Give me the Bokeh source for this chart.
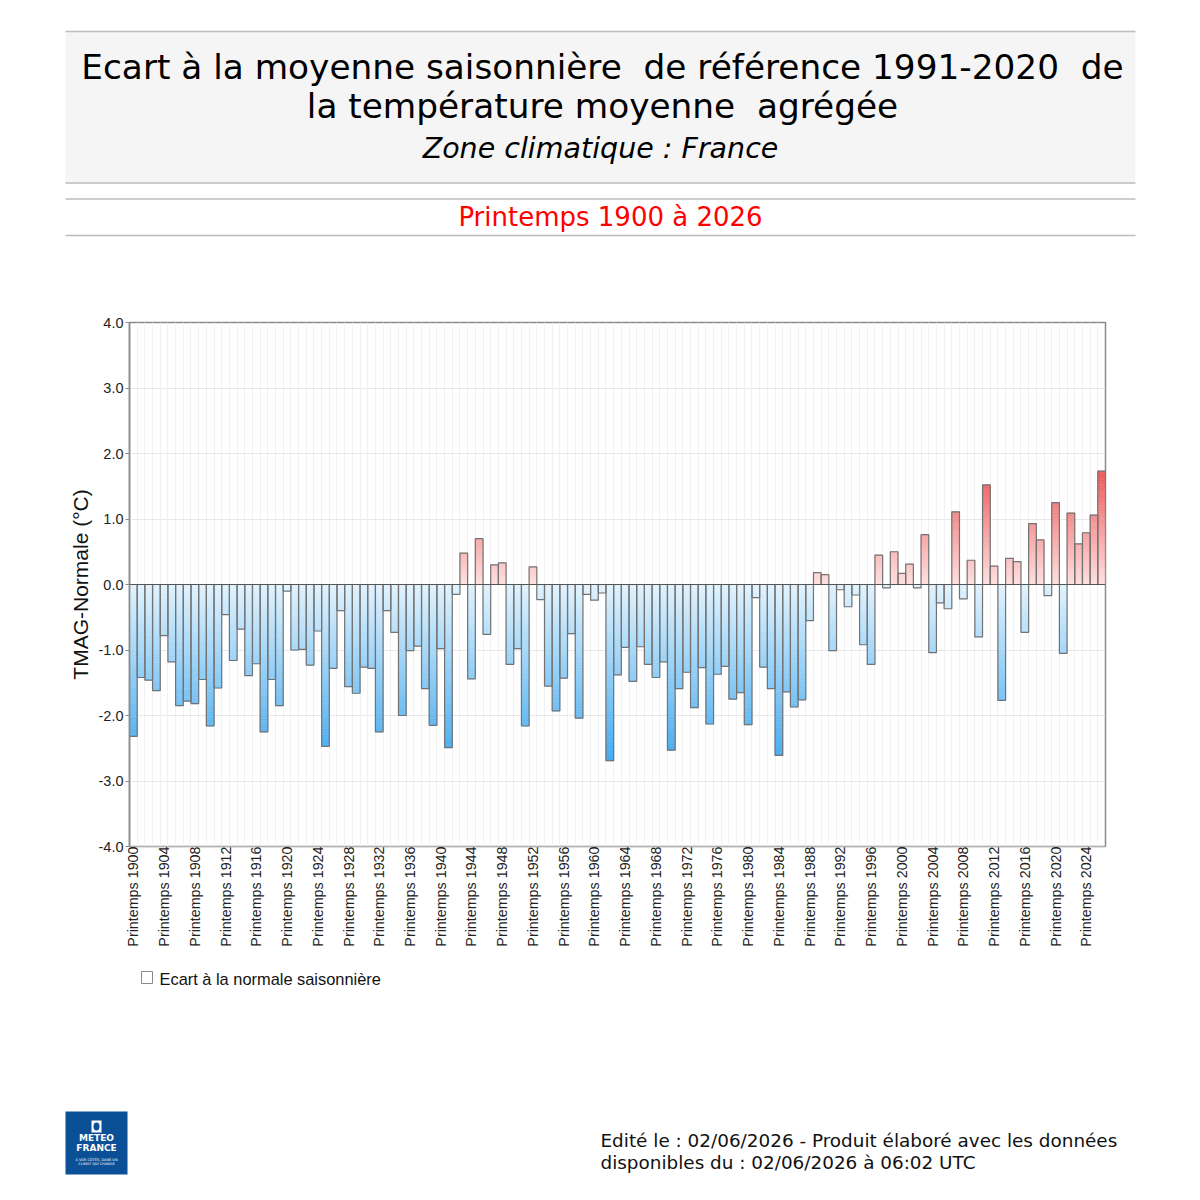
import math
from bokeh.plotting import figure
from bokeh.models import Range1d, FixedTicker, NumeralTickFormatter, Span
from bokeh.layouts import column
from bokeh.embed import file_html
from bokeh.resources import INLINE
from bokeh.core.properties import value

# ---------------- data ----------------
years = list(range(1900, 2027))
anomalies = [
    -2.32, -1.42, -1.46, -1.62, -0.78, -1.18, -1.85, -1.78, -1.82, -1.45,  # 1900-1909
    -2.16, -1.58, -0.46, -1.16, -0.68, -1.39, -1.21, -2.25, -1.45, -1.85,  # 1910-1919
    -0.10, -1.00, -0.99, -1.23, -0.71, -2.47, -1.28, -0.40, -1.56, -1.66,  # 1920-1929
    -1.26, -1.28, -2.25, -0.40, -0.73, -2.00, -1.01, -0.94, -1.59, -2.15,  # 1930-1939
    -0.98, -2.49, -0.15, 0.48, -1.44, 0.70, -0.76, 0.30, 0.33, -1.22,      # 1940-1949
    -0.98, -2.16, 0.27, -0.23, -1.55, -1.93, -1.43, -0.75, -2.04, -0.15,   # 1950-1959
    -0.24, -0.13, -2.69, -1.38, -0.96, -1.48, -0.95, -1.22, -1.42, -1.18,  # 1960-1969
    -2.53, -1.59, -1.34, -1.88, -1.27, -2.13, -1.37, -1.25, -1.75, -1.65,  # 1970-1979
    -2.14, -0.20, -1.26, -1.59, -2.61, -1.64, -1.87, -1.76, -0.55, 0.18,   # 1980-1989
    0.15, -1.01, -0.08, -0.34, -0.16, -0.92, -1.22, 0.45, -0.05, 0.50,     # 1990-1999
    0.17, 0.31, -0.05, 0.76, -1.04, -0.28, -0.37, 1.11, -0.22, 0.37,       # 2000-2009
    -0.80, 1.52, 0.28, -1.77, 0.40, 0.35, -0.73, 0.93, 0.68, -0.17,        # 2010-2019
    1.25, -1.05, 1.09, 0.62, 0.79, 1.06, 1.73,                             # 2020-2026
]
assert len(years) == len(anomalies)

tick_years = list(range(1900, 2025, 4))
tick_labels = ["Printemps %d" % y for y in tick_years]
y_ticks = [-4, -3, -2, -1, 0, 1, 2, 3, 4]

title_lines = ["Ecart à la moyenne saisonnière \u00a0de référence 1991-2020 \u00a0de",
               "la température moyenne \u00a0agrégée"]
subtitle = "Zone climatique : France"
period_title = "Printemps 1900 à 2026"
y_label = "TMAG-Normale (°C)"
legend_label = "Ecart à la normale saisonnière"
footer_lines = ["Edité le : 02/06/2026 - Produit élaboré avec les données",
                "disponibles du : 02/06/2026 à 06:02 UTC"]

W = 1192
DV = value("DejaVu Sans")
LS = value("Liberation Sans")


def no_align(f):
    try:
        f.frame_align = False
    except Exception:
        pass


def blank_fig(h, top_page):
    f = figure(width=W, height=h, x_range=Range1d(0, W),
               y_range=Range1d(top_page + h, top_page),
               x_axis_type=None, y_axis_type=None, min_border=0,
               toolbar_location=None, output_backend="svg")
    f.grid.visible = False
    f.outline_line_color = None
    f.background_fill_color = "white"
    f.border_fill_color = "white"
    no_align(f)
    return f

# ---------------- header ----------------
hdr = blank_fig(300, 0)
hdr.quad(left=[65], right=[1135], top=[31], bottom=[183], fill_color="#f5f5f5", line_color=None)
hdr.segment(x0=[65, 65, 65, 65], x1=[1135, 1135, 1135, 1135], y0=[31, 182.5, 198.5, 235], y1=[31, 182.5, 198.5, 235],
            line_color="#bdbdbd", line_width=1.5)
hdr.text(x=[602, 602], y=[66, 105], text=title_lines, text_font=DV, text_font_size="34.3px",
         text_align="center", text_baseline="alphabetic", text_color="black")
hdr.text(x=[600], y=[148], text=[subtitle], text_font=DV, text_font_size="28.5px", text_font_style="italic",
         text_align="center", text_baseline="alphabetic", text_color="black")
hdr.text(x=[610], y=[216], text=[period_title], text_font=DV, text_font_size="26px",
         text_align="center", text_baseline="alphabetic", text_color="#ff0000")

# ---------------- chart ----------------
CH_TOP, CH_BOT = 300, 962
p = figure(width=W, height=CH_BOT - CH_TOP, x_range=Range1d(1899.5, 2026.5), y_range=Range1d(-4, 4),
           min_border_left=129, min_border_right=W - 1105, min_border_top=322 - CH_TOP,
           min_border_bottom=CH_BOT - 846,
           toolbar_location=None, output_backend="svg")
no_align(p)
p.background_fill_color = "white"
p.border_fill_color = "white"
p.outline_line_color = "#8a8a8a"
p.outline_line_width = 1.5

# gradient slices computed from the values
STEP = 0.025
ql, qr, qb, qt, qc = [], [], [], [], []


def mix(c0, c1, t):
    t = max(0.0, min(1.0, t))
    return "#%02x%02x%02x" % tuple(int(round(a + (b - a) * t)) for a, b in zip(c0, c1))


for yr, v in zip(years, anomalies):
    n = max(1, int(math.ceil(abs(v) / STEP)))
    for i in range(n):
        a = v * i / n
        b = v * (i + 1) / n
        mid = abs((a + b) / 2)
        if v >= 0:
            col = mix((255, 224, 224), (238, 88, 88), mid / 1.75)
        else:
            col = mix((226, 243, 254), (62, 168, 240), mid / 2.75)
        ql.append(yr - 0.5)
        qr.append(yr + 0.5)
        qb.append(min(a, b))
        qt.append(max(a, b))
        qc.append(col)

p.quad(left=ql, right=qr, bottom=qb, top=qt, fill_color=qc, line_color=qc, line_width=0.6)
p.vbar(x=years, top=anomalies, bottom=0, width=1.0, fill_alpha=0, line_color="#737373", line_width=1.2)
p.add_layout(Span(location=0, dimension="width", line_color="#555555", line_width=1.2))

p.xaxis.ticker = FixedTicker(ticks=tick_years)
p.xaxis.major_label_overrides = {y: lab for y, lab in zip(tick_years, tick_labels)}
p.xaxis.major_label_orientation = math.pi / 2
p.xaxis.major_label_text_font = "Liberation Sans"
p.xaxis.major_label_text_font_size = "14.3px"
p.xaxis.major_label_text_color = "#222222"
p.xaxis.major_tick_line_color = None
p.xaxis.major_tick_in = 0
p.xaxis.major_tick_out = 0
p.xaxis.minor_tick_line_color = None
p.xaxis.axis_line_color = "#b0b0b0"
p.xaxis.major_label_standoff = 0

p.yaxis.ticker = FixedTicker(ticks=y_ticks)
p.yaxis.formatter = NumeralTickFormatter(format="0.0")
p.yaxis.major_label_text_font = "Liberation Sans"
p.yaxis.major_label_text_font_size = "14.5px"
p.yaxis.major_label_text_color = "#222222"
p.yaxis.major_tick_in = 0
p.yaxis.major_tick_out = 4
p.yaxis.major_tick_line_color = "#8a8a8a"
p.yaxis.minor_tick_line_color = None
p.yaxis.axis_line_color = "#8a8a8a"
p.yaxis.axis_line_width = 1.5
p.yaxis.major_label_standoff = 2
p.yaxis.axis_label = y_label
p.yaxis.axis_label_text_font = "Liberation Sans"
p.yaxis.axis_label_text_font_size = "21px"
p.yaxis.axis_label_text_font_style = "normal"
p.yaxis.axis_label_text_color = "#111111"
p.yaxis.axis_label_standoff = 4

p.xgrid.ticker = FixedTicker(ticks=[y + 0.5 for y in years[:-1]])
p.xgrid.grid_line_color = "#f1f1f1"
p.ygrid.ticker = FixedTicker(ticks=y_ticks)
p.ygrid.grid_line_color = "#e8e8e8"

# ---------------- footer ----------------
ftr = blank_fig(1192 - CH_BOT, CH_BOT)
ftr.quad(left=[141], right=[152], top=[971], bottom=[983], fill_color="white", line_color="#8a8a8a", line_width=1)
ftr.text(x=[159], y=[978], text=[legend_label], text_font=LS, text_font_size="16.4px",
         text_align="left", text_baseline="alphabetic", text_color="#111111")
ftr.text(x=[600, 600], y=[1140, 1162], text=footer_lines, text_font=DV, text_font_size="18.4px",
         text_align="left", text_baseline="alphabetic", text_color="#111111")
# logo
ftr.quad(left=[65], right=[127], top=[1111], bottom=[1174], fill_color="#0b4f97", line_color=None)
ftr.quad(left=[91], right=[101], top=[1120], bottom=[1132], fill_color="white", line_color=None)
ftr.ellipse(x=[96], y=[1126], width=[6], height=[8], fill_color="#0b4f97", line_color=None)
ftr.text(x=[96, 96], y=[1142, 1152], text=["METEO", "FRANCE"], text_font=DV,
         text_font_size="9px", text_font_style="bold", text_align="center", text_color="white")
ftr.text(x=[96, 96], y=[1161, 1165.5], text=["À VOS CÔTÉS, DANS UN", "CLIMAT QUI CHANGE"], text_font=DV,
         text_font_size="3.5px", text_align="center", text_color="white")

layout = column(hdr, p, ftr, spacing=0)
open("out.html", "w").write(file_html(layout, INLINE))
